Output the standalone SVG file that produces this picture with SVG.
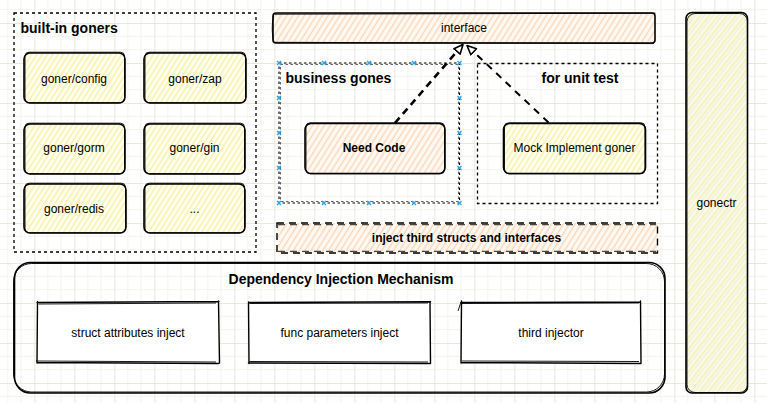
<svg xmlns="http://www.w3.org/2000/svg" width="767" height="403" viewBox="0 0 767 403">
<defs>
<pattern id="grid" patternUnits="userSpaceOnUse" x="34.33" y="23" width="40" height="40">
<path d="M0 13.33H40M0 26.67H40M13.33 0V40M26.67 0V40" stroke="#f3f3ea" stroke-width="1" fill="none"/>
<path d="M0 0.5H40M0.5 0V40" stroke="#e8e8dc" stroke-width="1" fill="none"/>
</pattern>
<pattern id="hy" patternUnits="userSpaceOnUse" width="4.5" height="4.5" patternTransform="rotate(32)">
<rect width="4.5" height="4.5" fill="#fffef0"/>
<line x1="1.5" y1="0" x2="1.5" y2="4.5" stroke="#f6f1a6" stroke-width="1.4"/>
</pattern>
<pattern id="hp" patternUnits="userSpaceOnUse" width="5" height="5" patternTransform="rotate(32)">
<rect width="5" height="5" fill="#fff9f3"/>
<line x1="1.5" y1="0" x2="1.5" y2="5" stroke="#fad6b8" stroke-width="1.4"/>
</pattern>
<pattern id="hg" patternUnits="userSpaceOnUse" width="7" height="7" patternTransform="rotate(38)">
<rect width="7" height="7" fill="#fafae8"/>
<line x1="1.5" y1="0" x2="1.5" y2="7" stroke="#f3f1b0" stroke-width="1.6"/>
<line x1="4.5" y1="0" x2="4.5" y2="7" stroke="#eeeee0" stroke-width="1.2"/>
</pattern>
<marker id="tri" viewBox="0 0 12 12" refX="11" refY="6" markerWidth="11" markerHeight="11" markerUnits="userSpaceOnUse" orient="auto">
<path d="M1 1.5 L11 6 L1 10.5 Z" fill="#fff" stroke="#000" stroke-width="1.8" stroke-linejoin="round"/>
</marker>
</defs>
<style>
text{font-family:"Liberation Sans",Arial,sans-serif;fill:#000}
.t{font-size:12px;text-anchor:middle}
.tb{font-size:12px;font-weight:bold;text-anchor:middle}
.h{font-size:14px;font-weight:bold}
.s1{fill:none;stroke:#000;stroke-width:1.6}
.s2{fill:none;stroke:#000;stroke-width:0.9}
.dash{fill:none;stroke:#000;stroke-width:1.3;stroke-dasharray:3 3}
.dot{fill:none;stroke:#000;stroke-width:1.1;stroke-dasharray:2.5 2.5}
.ld{fill:none;stroke:#000;stroke-width:1.4;stroke-dasharray:7 5}
.hx{stroke:#2aa3ea;stroke-width:1.3;fill:none}
.ln{fill:none;stroke:#000;stroke-width:1.4;stroke-linecap:round}
</style>
<rect width="767" height="403" fill="#fff"/>
<rect width="767" height="403" fill="url(#grid)"/>

<g id="builtin-goners">
<rect x="14" y="13" width="242" height="239" class="dash"/>
<text x="20.5" y="33" class="h">built-in goners</text>
</g>
<g id="goner-config">
<rect x="24" y="53" width="101" height="50" rx="6" fill="url(#hy)"/>
<rect x="24" y="53" width="101" height="50" rx="6" class="s1"/>
<rect x="25" y="52.2" width="99.5" height="50.5" rx="4" class="s2"/>
<text x="74" y="83" class="t">goner/config</text>
</g>
<g id="goner-zap">
<rect x="144" y="53" width="102" height="50" rx="6" fill="url(#hy)"/>
<rect x="144" y="53" width="102" height="50" rx="6" class="s1"/>
<rect x="145" y="52.2" width="100.5" height="50.5" rx="4" class="s2"/>
<text x="195" y="83" class="t">goner/zap</text>
</g>
<g id="goner-gorm">
<rect x="24" y="124" width="101" height="50" rx="6" fill="url(#hy)"/>
<rect x="24" y="124" width="101" height="50" rx="6" class="s1"/>
<rect x="25" y="123.2" width="99.5" height="50.5" rx="4" class="s2"/>
<text x="74" y="152" class="t">goner/gorm</text>
</g>
<g id="goner-gin">
<rect x="144" y="124" width="101" height="50" rx="6" fill="url(#hy)"/>
<rect x="144" y="124" width="101" height="50" rx="6" class="s1"/>
<rect x="145" y="123.2" width="99.5" height="50.5" rx="4" class="s2"/>
<text x="194.5" y="152" class="t">goner/gin</text>
</g>
<g id="goner-redis">
<rect x="24" y="184" width="102" height="49" rx="6" fill="url(#hy)"/>
<rect x="24" y="184" width="102" height="49" rx="6" class="s1"/>
<rect x="25" y="183.2" width="100.5" height="49.5" rx="4" class="s2"/>
<text x="74" y="212.5" class="t">goner/redis</text>
</g>
<g id="goner-more">
<rect x="144" y="184" width="101" height="49" rx="6" fill="url(#hy)"/>
<rect x="144" y="184" width="101" height="49" rx="6" class="s1"/>
<rect x="145" y="183.2" width="99.5" height="49.5" rx="4" class="s2"/>
<text x="194.5" y="212.5" class="t">...</text>
</g>

<g id="interface">
<rect x="273" y="13" width="382" height="30" rx="3" fill="url(#hp)"/>
<rect x="273" y="13" width="382" height="30" rx="3" class="s1"/>
<path d="M274 14.2 L655.5 13.2 M275 42.3 L654 43.6 M273.6 15 C271.5 25 272 36 274 42" class="s2"/>
<text x="464" y="31.5" class="t">interface</text>
</g>

<g id="business-gones">
<rect x="279" y="63" width="180.5" height="140" class="dot"/>
<rect x="280.5" y="64.5" width="178" height="137" class="dot" stroke-opacity="0.6"/>
<text x="285.5" y="83" class="h">business gones</text>
<path class="hx" d="M277 61l4 4m0-4l-4 4M322 61l4 4m0-4l-4 4M367 61l4 4m0-4l-4 4M412 61l4 4m0-4l-4 4M457.5 61l4 4m0-4l-4 4
M277 201l4 4m0-4l-4 4M322 201l4 4m0-4l-4 4M367 201l4 4m0-4l-4 4M412 201l4 4m0-4l-4 4M457.5 201l4 4m0-4l-4 4
M277 96l4 4m0-4l-4 4M277 131l4 4m0-4l-4 4M277 166l4 4m0-4l-4 4
M457.5 96l4 4m0-4l-4 4M457.5 131l4 4m0-4l-4 4M457.5 166l4 4m0-4l-4 4"/>
</g>
<g id="need-code">
<rect x="305" y="123.5" width="140" height="50" rx="6" fill="url(#hp)"/>
<rect x="305" y="123.5" width="140" height="50" rx="6" class="s1"/>
<rect x="306" y="122.8" width="138.5" height="51" rx="4" class="s2"/>
<text x="374" y="151.5" class="tb">Need Code</text>
</g>

<g id="unit-test">
<rect x="477.5" y="63.5" width="180" height="140" class="dash"/>
<text x="541.5" y="83" class="h">for unit test</text>
</g>
<g id="mock-goner">
<rect x="503.5" y="123.5" width="142" height="50" rx="6" fill="url(#hy)"/>
<rect x="503.5" y="123.5" width="142" height="50" rx="6" class="s1"/>
<rect x="504.5" y="122.8" width="140.5" height="51" rx="4" class="s2"/>
<text x="574.5" y="151.5" class="t">Mock Implement goner</text>
</g>

<g id="inject-third">
<rect x="277" y="223" width="380.5" height="30" fill="url(#hp)"/>
<rect x="277" y="223" width="380.5" height="30" class="ld"/>
<path d="M278 224.6 H656 M278 251.4 H656" class="ld" stroke-width="1" stroke-opacity="0.7"/>
<text x="466.5" y="242" class="tb">inject third structs and interfaces</text>
</g>

<g id="di-mechanism">
<rect x="14.5" y="262.5" width="650.5" height="130.5" rx="16" fill="#fff" class="s1"/>
<rect x="13.5" y="263.5" width="651" height="128.5" rx="18" class="s2"/>
<text x="341" y="283.5" class="h" text-anchor="middle">Dependency Injection Mechanism</text>
</g>
<g id="struct-attributes-inject">
<rect x="37" y="302" width="181.5" height="61" fill="#fff"/>
<path d="M37 302.5 L219 301.5 M37 362.5 L218.5 363.5 M37.5 301.5 L37 363 M218.5 301 L219.5 363" class="ln"/>
<path d="M38.5 304 L216 303 M36 361 L216 362" class="s2"/>
<text x="128" y="336.5" class="t">struct attributes inject</text>
</g>
<g id="func-parameters-inject">
<rect x="248.5" y="302" width="182" height="61" fill="#fff"/>
<path d="M248.5 302.5 L430.5 301.8 M248.5 363 L430.5 363.5 M248.5 302 L249 363.5 M430 302 L430.5 363.5" class="ln"/>
<path d="M249.5 303.5 L428 303 M249.5 361.5 L428 362" class="s2"/>
<text x="339.5" y="336.5" class="t">func parameters inject</text>
</g>
<g id="third-injector">
<rect x="461" y="302" width="180" height="61" fill="#fff"/>
<path d="M461 302.5 L640.5 302 M461 362.5 L641 363.5 M461.5 301 L461 363 M640.5 301 L641 363.5" class="ln"/>
<path d="M461 302 L458 311 M462 303.5 L639 303 M462 361 L639 361.5" class="s2"/>
<text x="551" y="336.5" class="t">third injector</text>
</g>

<g id="gonectr">
<rect x="686" y="12.5" width="61.5" height="380.5" rx="6" fill="url(#hg)"/>
<rect x="686" y="12.5" width="61.5" height="380.5" rx="6" class="s1"/>
<rect x="687" y="13.5" width="60.5" height="379" rx="8" class="s2"/>
<text x="716.5" y="207" class="t">gonectr</text>
</g>

<g id="connectors">
<path d="M395 123 L463 44.5" fill="none" stroke="#000" stroke-width="2.6" stroke-dasharray="7 5" marker-end="url(#tri)"/>
<path d="M548.5 122.5 L467 45.5" fill="none" stroke="#000" stroke-width="2" stroke-dasharray="7 6" marker-end="url(#tri)"/>
</g>
</svg>
